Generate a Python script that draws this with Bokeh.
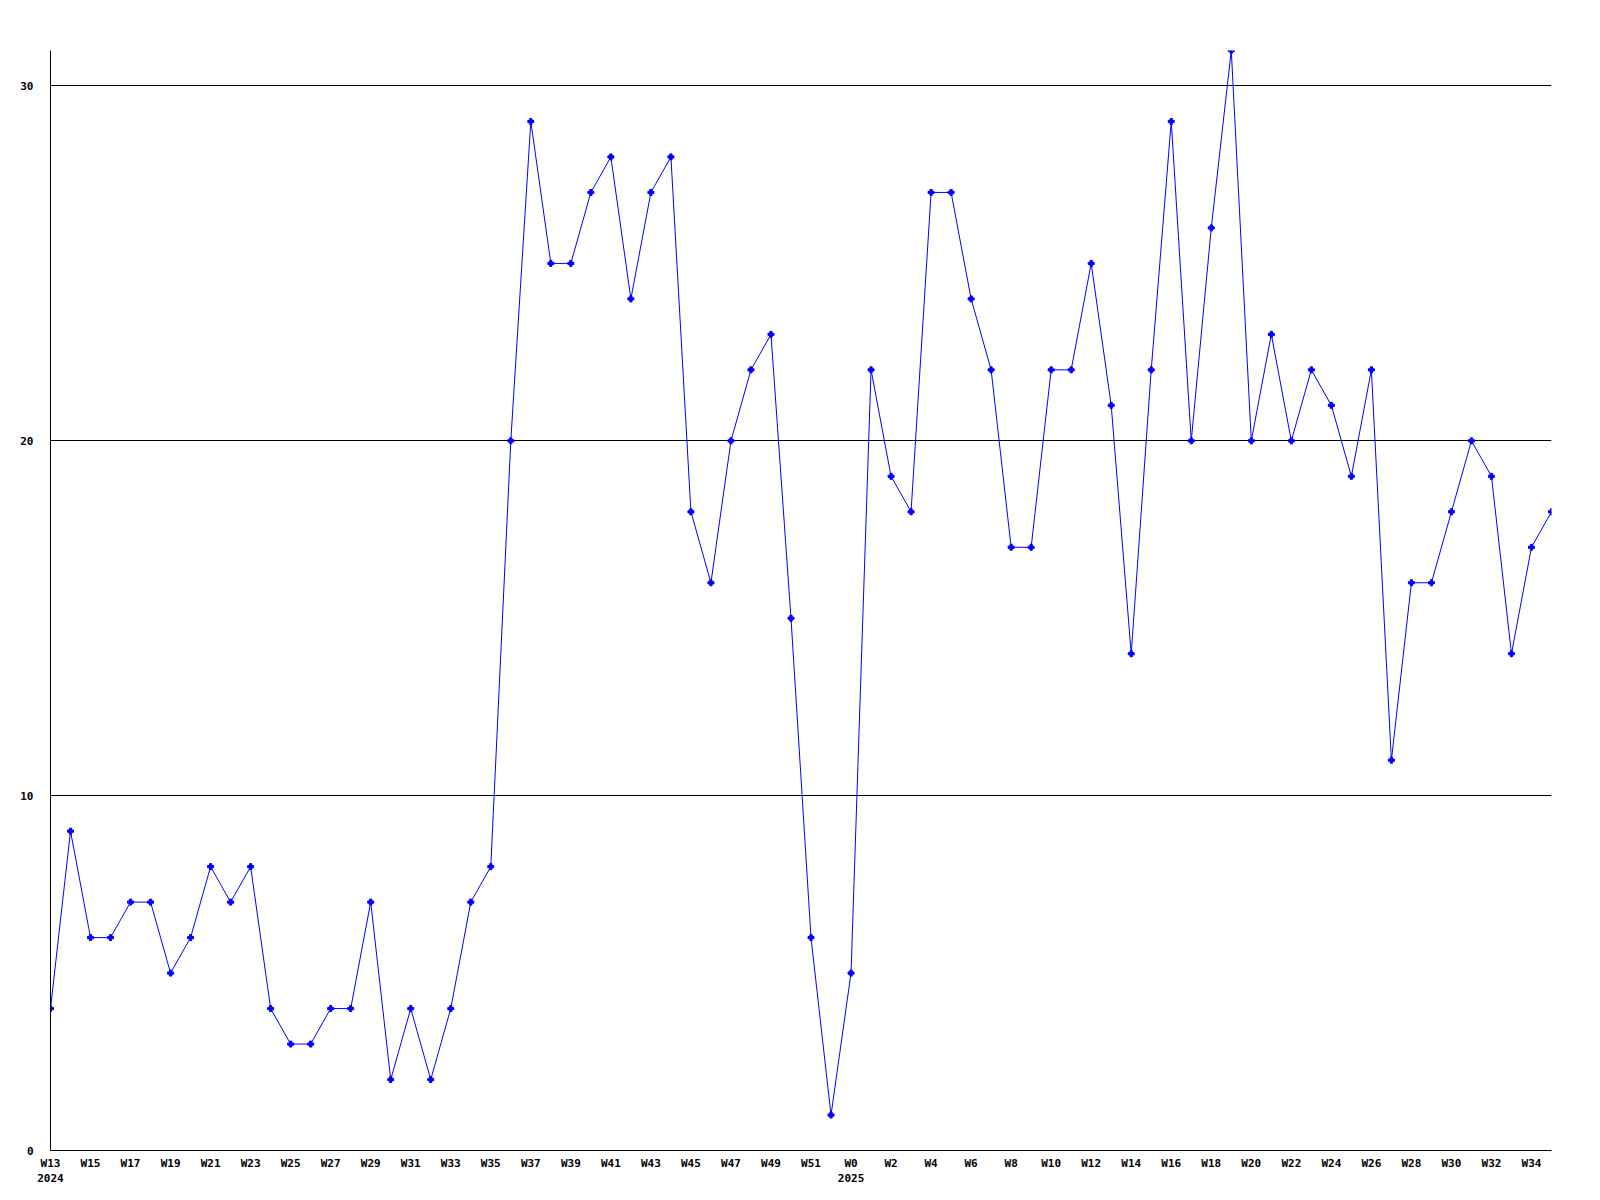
from bokeh.plotting import figure
from bokeh.models import FixedTicker, Range1d, ColumnDataSource
from bokeh.embed import file_html
from bokeh.resources import INLINE

# Weekly values, 2024 W13 .. 2025 W35
weeks = (["W%d" % w for w in range(13, 53)] + ["W%d" % w for w in range(0, 36)])
years = ["2024"] * 40 + ["2025"] * 36
values = [4, 9, 6, 6, 7, 7, 5, 6, 8, 7,
          8, 4, 3, 3, 4, 4, 7, 2, 4, 2,
          4, 7, 8, 20, 29, 25, 25, 27, 28, 24,
          27, 28, 18, 16, 20, 22, 23, 15, 6, 1,
          5, 22, 19, 18, 27, 27, 24, 22, 17, 17,
          22, 22, 25, 21, 14, 22, 29, 20, 26, 31,
          20, 23, 20, 22, 21, 19, 22, 11, 16, 16,
          18, 20, 19, 14, 17, 18]
y_ticks = [0, 10, 20, 30]

idx = list(range(len(values)))
src = ColumnDataSource(dict(x=idx, y=values))

p = figure(frame_width=1501, frame_height=1100, output_backend="svg",
           toolbar_location=None, x_range=Range1d(0, len(values) - 1),
           y_range=Range1d(0, 31),
           min_border_left=50, min_border_top=50, min_border_right=20,
           min_border_bottom=40)
p.outline_line_color = None
p.background_fill_color = "white"
p.border_fill_color = "white"

p.line("x", "y", source=src, color="#0000ff", line_width=1)
p.scatter("x", "y", source=src, marker="plus", size=6, color="#0000ff")

tick_pos = [i for i in idx if i % 2 == 0 and i < len(values) - 1]
overrides = {}
for i in tick_pos:
    lab = weeks[i]
    if i == 0 or years[i] != years[i - 2]:
        lab = lab + "\n" + years[i]
    overrides[i] = lab

p.xaxis.ticker = FixedTicker(ticks=tick_pos)
p.xaxis.major_label_overrides = overrides
p.yaxis.ticker = FixedTicker(ticks=y_ticks)

for ax in (p.xaxis[0], p.yaxis[0]):
    ax.axis_line_color = "black"
    ax.axis_line_width = 1
    ax.major_tick_line_color = None
    ax.minor_tick_line_color = None
    ax.major_tick_out = 0
    ax.major_tick_in = 0
    ax.major_label_text_font = "DejaVu Sans Mono"
    ax.major_label_text_font_style = "bold"
    ax.major_label_text_font_size = "11px"
    ax.major_label_text_color = "black"
p.xaxis.major_label_standoff = 6
p.yaxis.major_label_standoff = 17

p.xgrid.grid_line_color = None
p.ygrid.ticker = FixedTicker(ticks=y_ticks)
p.ygrid.grid_line_color = "black"
p.ygrid.grid_line_width = 1
p.ygrid.grid_line_alpha = 1.0

open("out.html", "w").write(file_html(p, INLINE))
